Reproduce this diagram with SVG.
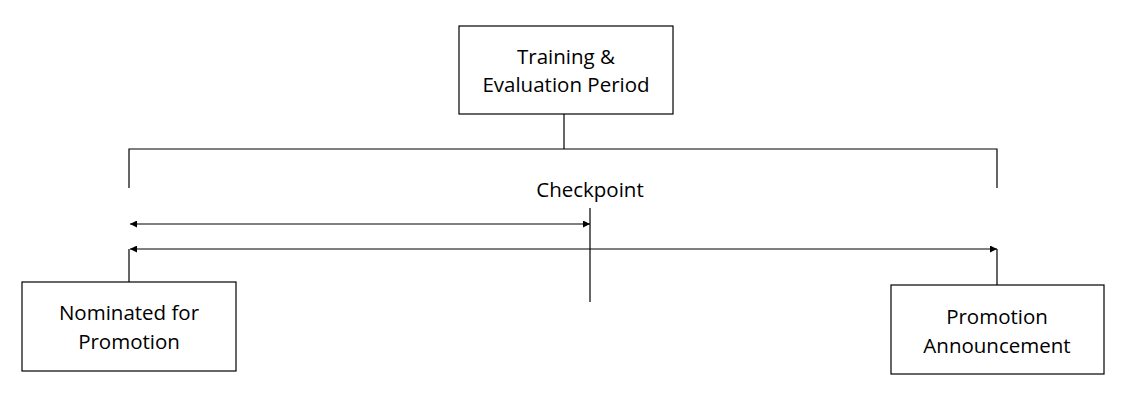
<svg xmlns="http://www.w3.org/2000/svg" width="1129" height="404" viewBox="0 0 1129 404">
<style>
.box{fill:#fff;stroke:#000;stroke-width:1.2}
.ln{fill:none;stroke:#000;stroke-width:1.2}
text{font-family:"Open Sans","Noto Sans",sans-serif;font-size:20.5px;fill:#000;text-anchor:middle}
</style>
<defs>
<marker id="ah" viewBox="0 0 10 10" refX="10" refY="5" markerWidth="7" markerHeight="7" markerUnits="userSpaceOnUse" orient="auto-start-reverse">
<path d="M0,0 L10,5 L0,10 z" fill="#000"/>
</marker>
</defs>
<rect width="1129" height="404" fill="#fff"/>
<g id="connectors">
<path class="ln" d="M564,114 V149 M129,188 V149 H997 V188"/>
<path class="ln" d="M590,208 V302"/>
<path class="ln" d="M130,224 H590" marker-start="url(#ah)" marker-end="url(#ah)"/>
<path class="ln" d="M130,249 H997" marker-start="url(#ah)" marker-end="url(#ah)"/>
<path class="ln" d="M129,249 V282 M997,249 V285"/>
</g>
<g id="training">
<rect class="box" x="459" y="26" width="214" height="88"/>
<text x="566" y="64">Training &amp;</text>
<text x="566" y="92">Evaluation Period</text>
</g>
<g id="checkpoint">
<text x="590" y="197">Checkpoint</text>
</g>
<g id="nominated">
<rect class="box" x="22" y="282" width="214" height="89"/>
<text x="129" y="320">Nominated for</text>
<text x="129" y="349">Promotion</text>
</g>
<g id="announcement">
<rect class="box" x="891" y="285" width="213" height="89"/>
<text x="997" y="324">Promotion</text>
<text x="997" y="353">Announcement</text>
</g>
</svg>
